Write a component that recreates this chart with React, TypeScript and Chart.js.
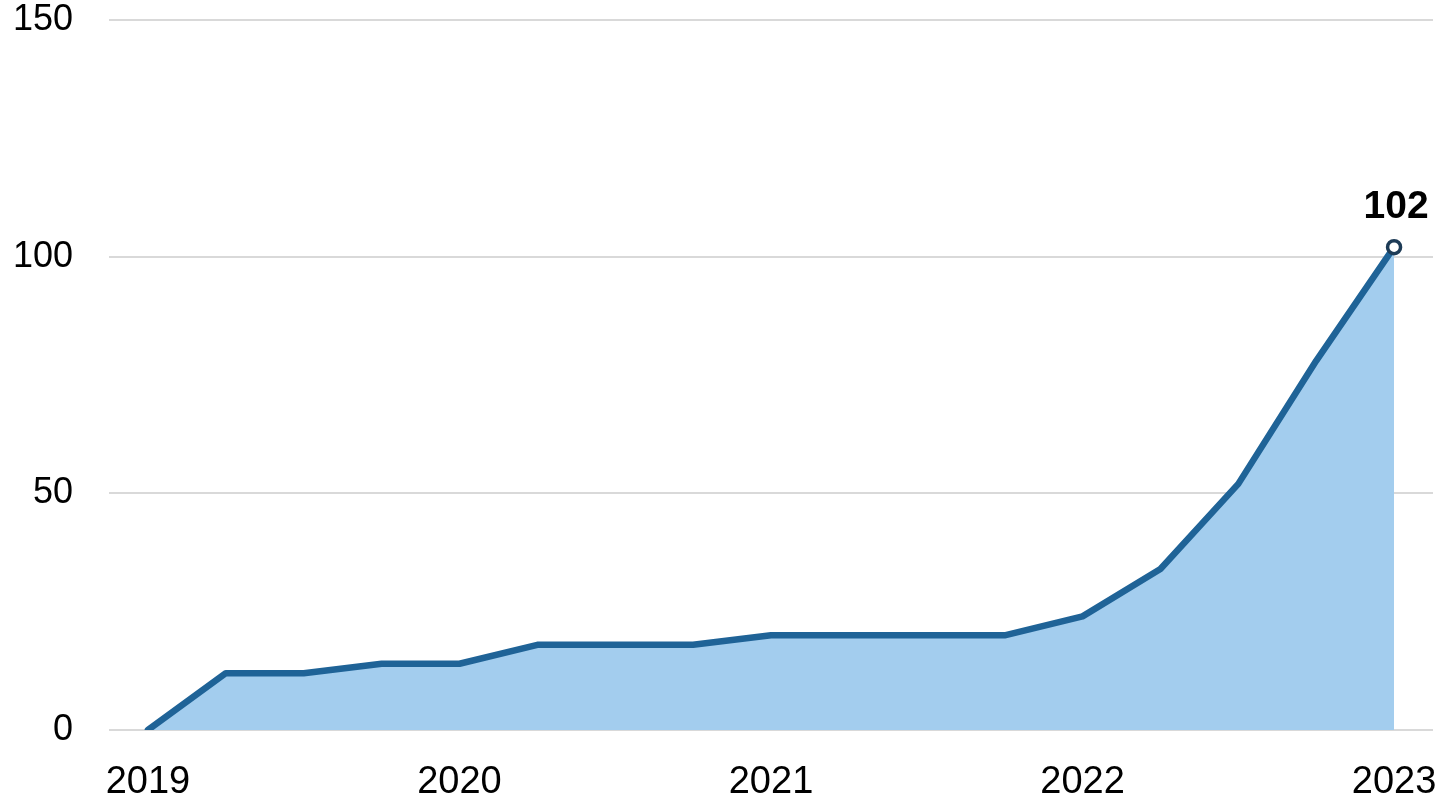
import React, { useEffect, useRef } from "react";
import { Chart, registerables } from "chart.js";

Chart.register(...registerables);

const quarters = [
  "2019 Q1", "2019 Q2", "2019 Q3", "2019 Q4",
  "2020 Q1", "2020 Q2", "2020 Q3", "2020 Q4",
  "2021 Q1", "2021 Q2", "2021 Q3", "2021 Q4",
  "2022 Q1", "2022 Q2", "2022 Q3", "2022 Q4",
  "2023 Q1",
];
const tickLabels = ["2019", "", "", "", "2020", "", "", "", "2021", "", "", "", "2022", "", "", "", "2023"];
const values = [0, 12, 12, 14, 14, 18, 18, 18, 20, 20, 20, 20, 24, 34, 52, 78, 102];
const yTicks = [0, 50, 100, 150];

const FONT = "'Liberation Sans', Arial, sans-serif";

const lastLabelPlugin = {
  id: "lastLabel",
  afterDatasetsDraw(chart: any) {
    const meta = chart.getDatasetMeta(0);
    const i = values.length - 1;
    const pt = meta.data[i];
    if (!pt) return;
    const ctx = chart.ctx;
    ctx.save();
    ctx.font = `bold 39px ${FONT}`;
    ctx.fillStyle = "#000000";
    ctx.textAlign = "center";
    ctx.textBaseline = "alphabetic";
    ctx.fillText(String(values[i]), pt.x + 2, pt.y - 29);
    ctx.restore();
  },
};

export default function App() {
  const ref = useRef<HTMLCanvasElement | null>(null);
  useEffect(() => {
    if (!ref.current) return;
    const last = values.length - 1;
    const chart = new Chart(ref.current, {
      type: "line",
      data: {
        labels: quarters,
        datasets: [
          {
            data: values,
            borderColor: "#1f6397",
            borderWidth: 6.5,
            backgroundColor: "#a3cdee",
            fill: "origin",
            tension: 0,
            pointRadius: (c: any) => (c.dataIndex === last ? 6.5 : 0),
            pointHoverRadius: 0,
            pointBackgroundColor: "#ffffff",
            pointBorderColor: "#1d3b56",
            pointBorderWidth: 3.5,
            borderJoinStyle: "round",
            borderCapStyle: "round",
          },
        ],
      },
      options: {
        animation: false,
        responsive: false,
        maintainAspectRatio: false,
        layout: { padding: { top: 20, right: 12, left: 0, bottom: 0 } },
        plugins: {
          legend: { display: false },
          tooltip: { enabled: false },
        },
        scales: {
          x: {
            type: "category",
            offset: true,
            grid: { display: false, drawTicks: false },
            border: { display: false },
            ticks: {
              autoSkip: false,
              maxRotation: 0,
              minRotation: 0,
              padding: 30,
              color: "#000000",
              font: { family: FONT, size: 38 },
              callback: (_v: any, i: number) => tickLabels[i],
            },
            afterFit: (s: any) => {
              s.height = 74;
              s.paddingLeft = 0;
              s.paddingRight = 0;
            },
          },
          y: {
            min: 0,
            max: 150,
            afterBuildTicks: (s: any) => {
              s.ticks = yTicks.map((v) => ({ value: v }));
            },
            grid: { color: "#d9d9d9", lineWidth: 2, drawTicks: false },
            border: { display: false },
            ticks: {
              padding: 36,
              color: "#000000",
              font: { family: FONT, size: 36 },
            },
            afterFit: (s: any) => {
              s.width = 109;
              s.paddingTop = 0;
              s.paddingBottom = 0;
            },
          },
        },
      },
      plugins: [lastLabelPlugin],
    } as any);
    return () => chart.destroy();
  }, []);
  return (
    <div style={{ position: "fixed", left: 0, top: 0, width: 1445, height: 804, background: "#fff" }}>
      <canvas ref={ref} width={1445} height={804} style={{ display: "block" }} />
    </div>
  );
}
